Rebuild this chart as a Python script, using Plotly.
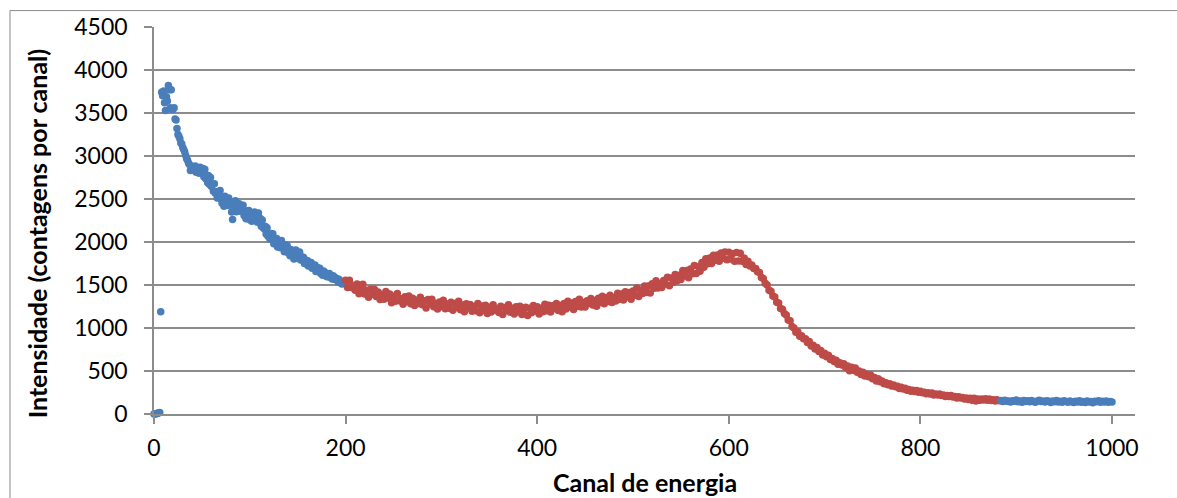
import plotly.graph_objects as go

# ---- data ----
# low-energy blue part: channels 0..199 (step 1)
blue_lo_ch = list(range(0, 200))
blue_lo_val = [
    0, 3, 0, 6, 10, 14, 18, 1190,
    3740, 3700, 3755, 3620, 3530, 3690, 3640, 3820, 3770, 3560, 3770, 3540,
    3545, 3560, 3430, 3420, 3320, 3250, 3230, 3200, 3150, 3140, 3100,
    3075, 3050, 3010, 2970, 2950, 2920, 2900, 2830, 2880, 2840,
    2860, 2830, 2885, 2810, 2860, 2845, 2800, 2870, 2825, 2855,
    2855, 2760, 2845, 2735, 2780, 2690, 2770, 2670, 2750, 2645,
    2667, 2589, 2676, 2568, 2585, 2511, 2587, 2518, 2599, 2500,
    2452, 2524, 2416, 2533, 2470, 2504, 2423, 2512, 2431, 2460,
    2349, 2263, 2462, 2386, 2480, 2351, 2417, 2358, 2444, 2380,
    2417, 2354, 2426, 2308, 2355, 2270, 2360, 2305, 2365, 2260,
    2318, 2241, 2334, 2262, 2350, 2267, 2324, 2231, 2338, 2240,
    2274, 2183, 2257, 2166, 2155, 2182, 2094, 2166, 2068, 2095,
    2035, 2100, 2035, 2095, 1980, 2042, 1984, 2041, 1943, 1995,
    2012, 1934, 2016, 1938, 1965, 1887, 1969, 1921, 1958, 1875,
    1920, 1840, 1910, 1855, 1900, 1801, 1857, 1908, 1814, 1855,
    1817, 1884, 1791, 1828, 1790, 1822, 1749, 1791, 1748, 1785,
    1722, 1764, 1726, 1763, 1695, 1729, 1703, 1732, 1656, 1700,
    1702, 1659, 1696, 1633, 1660, 1614, 1663, 1627, 1641, 1600,
    1631, 1592, 1633, 1594, 1605, 1569, 1608, 1567, 1586, 1565,
    1574, 1538, 1567, 1531, 1545, 1511, 1542, 1518, 1519,
]

# red (selected) part: channels 200..882 (step 2)
red_ch = list(range(200, 884, 2))
red_val = [
    1555, 1470, 1555, 1470, 1495, 1440, 1512, 1399, 1466, 1508,
    1395, 1439, 1358, 1452, 1391, 1450, 1365, 1420, 1330, 1385,
    1335, 1425, 1350, 1395, 1295, 1370, 1311, 1402, 1318, 1339,
    1275, 1362, 1309, 1371, 1283, 1345, 1262, 1324, 1286, 1358,
    1270, 1317, 1234, 1331, 1283, 1335, 1247, 1284, 1221, 1303,
    1250, 1323, 1225, 1278, 1230, 1298, 1206, 1284, 1237, 1310,
    1213, 1266, 1189, 1282, 1235, 1273, 1196, 1249, 1202, 1285,
    1178, 1257, 1206, 1265, 1169, 1242, 1187, 1271, 1206, 1225,
    1180, 1254, 1158, 1237, 1201, 1270, 1184, 1229, 1163, 1248,
    1192, 1252, 1156, 1216, 1240, 1145, 1230, 1176, 1261, 1197,
    1247, 1164, 1231, 1188, 1275, 1202, 1265, 1187, 1260, 1227,
    1285, 1203, 1262, 1190, 1284, 1222, 1310, 1243, 1292, 1215,
    1308, 1251, 1335, 1243, 1297, 1245, 1318, 1286, 1344, 1267,
    1320, 1254, 1347, 1296, 1369, 1283, 1352, 1307, 1381, 1296,
    1355, 1315, 1405, 1335, 1395, 1325, 1421, 1362, 1413, 1334,
    1430, 1382, 1464, 1366, 1438, 1400, 1489, 1413, 1487, 1406,
    1515, 1462, 1549, 1466, 1518, 1470, 1553, 1511, 1589, 1492,
    1580, 1531, 1622, 1548, 1614, 1565, 1670, 1605, 1670, 1585,
    1685, 1631, 1727, 1633, 1714, 1660, 1763, 1706, 1804, 1747,
    1815, 1751, 1847, 1788, 1849, 1775, 1871, 1812, 1883, 1794,
    1880, 1802, 1864, 1776, 1878, 1780, 1868, 1776, 1814, 1737,
    1775, 1722, 1734, 1691, 1693, 1655, 1644, 1588, 1577, 1521,
    1500, 1439, 1428, 1372, 1361, 1300, 1291, 1227, 1218, 1169,
    1150, 1094, 1083, 1017, 1001, 950, 955, 905, 910, 875,
    875, 832, 844, 791, 798, 755, 774, 728, 737, 686,
    705, 666, 682, 633, 644, 610, 624, 578, 597, 571,
    585, 541, 557, 503, 544, 510, 535, 485, 500, 460,
    485, 441, 462, 433, 454, 410, 425, 385, 410, 375,
    385, 352, 364, 341, 353, 325, 338, 316, 324, 297,
    310, 290, 300, 275, 285, 265, 276, 262, 273, 254,
    265, 247, 253, 235, 246, 233, 245, 222, 233, 220,
    232, 214, 221, 204, 216, 203, 215, 197, 203, 185,
    202, 185, 192, 175, 187, 170, 183, 161, 184, 152,
    175, 159, 173, 162, 176, 160, 174, 158, 167, 151,
    165, 155,
]

# high-energy blue part: channels 884..1000 (step 2)
blue_hi_ch = list(range(884, 1002, 2))
blue_hi_val = [
    158, 145, 160, 148, 152, 140, 155, 147, 162, 143,
    150, 138, 156, 145, 153, 141, 158, 146, 137, 152,
    160, 144, 150, 139, 155, 147, 135, 152, 143, 157,
    140, 149, 136, 154, 144, 138, 151, 142, 133, 148,
    140, 155, 137, 146, 134, 150, 139, 145, 132, 149,
    141, 153, 136, 147, 139, 152, 138, 145, 140,
]

x_ticks = [0, 200, 400, 600, 800, 1000]
y_ticks = [0, 500, 1000, 1500, 2000, 2500, 3000, 3500, 4000, 4500]
x_title = "Canal de energia"
y_title = "Intensidade (contagens por canal)"

BLUE = "#4A7EBB"
RED = "#BE4B48"
GRID = "#8c8c8c"
FONT = "Lato"

fig = go.Figure()
for xs, ys, col in [(blue_lo_ch, blue_lo_val, BLUE),
                    (red_ch, red_val, RED),
                    (blue_hi_ch, blue_hi_val, BLUE)]:
    fig.add_trace(go.Scatter(
        x=xs, y=ys, mode="markers", cliponaxis=False,
        marker=dict(color=col, size=7.5, line=dict(width=0)),
        showlegend=False, hoverinfo="x+y"))

fig.update_layout(
    width=1177, height=498,
    margin=dict(l=154, r=42, t=24, b=84),
    paper_bgcolor="white", plot_bgcolor="white",
    font=dict(family=FONT, size=23, color="black"),
    xaxis=dict(range=[0, 1024], tickvals=x_ticks, showgrid=False,
               showline=True, linecolor=GRID, linewidth=1.5,
               ticks="outside", ticklen=8, tickcolor=GRID, tickwidth=1.5,
               zeroline=False, ticklabelstandoff=5,
               tickfont=dict(family=FONT, size=23, color="black")),
    yaxis=dict(range=[0, 4500], tickvals=y_ticks, showgrid=True,
               gridcolor=GRID, gridwidth=1.5,
               showline=True, linecolor=GRID, linewidth=1.5,
               ticks="outside", ticklen=8, tickcolor=GRID, tickwidth=1.5,
               zeroline=False, ticklabelstandoff=12,
               tickfont=dict(family=FONT, size=23, color="black")),
    annotations=[
        dict(text="<b>" + x_title + "</b>", xref="paper", yref="paper",
             x=0.5, y=-0.177, xanchor="center", yanchor="middle",
             showarrow=False, font=dict(family=FONT, size=25, color="black")),
        dict(text="<b>" + y_title + "</b>", xref="paper", yref="paper",
             x=-0.1193, y=0.467, xanchor="center", yanchor="middle",
             textangle=-90, showarrow=False,
             font=dict(family=FONT, size=25, color="black")),
    ],
    shapes=[dict(type="rect", xref="paper", yref="paper",
                 x0=-0.1468, x1=1.3, y0=-0.5, y1=1.0424,
                 line=dict(color="#8a8a8a", width=1), layer="below")],
)

assert len(blue_lo_ch) == len(blue_lo_val)
assert len(red_ch) == len(red_val)
assert len(blue_hi_ch) == len(blue_hi_val)

fig.write_html("out.html")
